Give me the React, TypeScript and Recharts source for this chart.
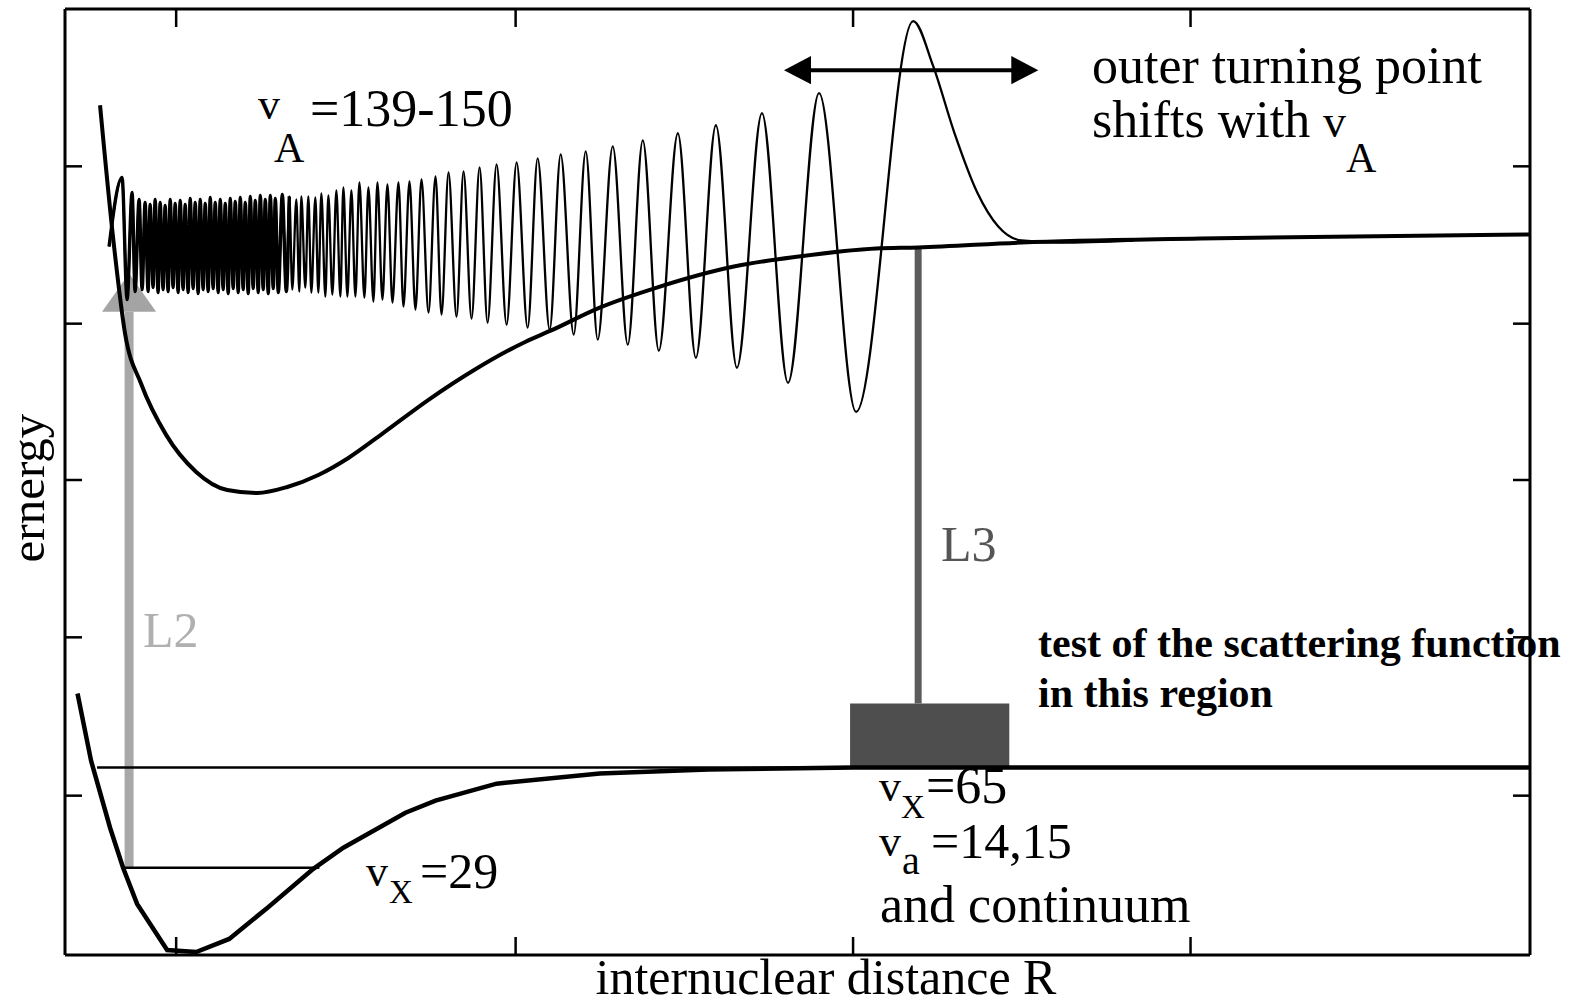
import React from 'react';
import {
  ComposedChart,
  Line,
  Area,
  XAxis,
  YAxis,
  ReferenceLine,
  ReferenceArea,
} from 'recharts';

// The original axes carry no numbers, so R and E are in arbitrary units
// (R: 0 .. 146.3 across the frame, E: 0 .. 94.4 bottom to top).
const xTicks = [11.1, 45.0, 78.7, 112.4];
const yTicks = [15.9, 31.7, 47.4, 63.0, 78.7];

// upper (A state) potential curve
const upperPotential: [number, number][] = [
  [3.5, 84.8], [4.9, 70.7], [6.0, 62.0], [7.6, 57.0], [10.1, 51.9], [13.1, 48.2],
  [16.2, 46.4], [19.2, 46.1], [22.2, 46.7], [25.3, 47.9], [28.3, 49.6], [31.8, 52.1],
  [36.3, 55.4], [40.9, 58.4], [46.0, 61.2], [48.5, 62.3], [53.4, 64.6], [59.1, 66.6],
  [66.8, 68.7], [73.3, 69.7], [81.0, 70.5], [85.2, 70.6], [95.5, 71.1], [113.4, 71.5],
  [146.3, 71.9],
];

// lower (X state) potential curve
const lowerPotential: [number, number][] = [
  [1.25, 26.1], [2.6, 19.4], [4.5, 12.7], [5.8, 8.7], [7.2, 5.1], [10.2, 0.5],
  [13.1, 0.3], [16.4, 1.6], [20.2, 4.7], [24.8, 8.6], [27.8, 10.7], [34.0, 14.2],
  [37.0, 15.4], [43.1, 17.1], [53.4, 18.1], [64.2, 18.5], [78.7, 18.7], [146.3, 18.7],
];

// vA = 139-150 wavefunction, peaks and troughs
const wavefunction: [number, number][] = [
  [4.4, 70.7], [5.7, 77.6], [6.2, 65.4], [6.7, 76.1], [7.0, 66.2], [7.4, 75.4],
  [7.7, 66.4], [8.0, 75.1], [8.3, 66.2], [8.5, 74.9], [8.8, 66.6], [9.0, 75.4],
  [9.3, 66.1], [9.5, 75.1], [9.8, 66.4], [10.0, 74.8], [10.3, 66.2], [10.5, 75.4],
  [10.8, 66.6], [11.0, 75.0], [11.3, 66.1], [11.5, 75.3], [11.8, 66.4], [12.0, 74.9],
  [12.3, 66.1], [12.5, 75.5], [12.8, 66.5], [13.0, 75.1], [13.3, 66.0], [13.5, 75.4],
  [13.8, 66.4], [14.0, 75.0], [14.3, 66.2], [14.5, 75.6], [14.8, 66.5], [15.0, 75.1],
  [15.3, 66.1], [15.5, 75.4], [15.8, 66.4], [16.0, 75.0], [16.3, 66.0], [16.5, 75.5],
  [16.8, 66.5], [17.0, 75.2], [17.3, 66.1], [17.5, 75.6], [17.8, 66.4], [18.0, 75.1],
  [18.3, 66.0], [18.5, 75.7], [18.8, 66.5], [19.0, 75.3], [19.3, 66.1], [19.5, 75.8],
  [19.8, 66.4], [20.0, 75.4], [20.3, 66.0], [20.5, 75.8], [20.8, 66.5], [21.0, 75.5],
  [21.3, 66.1], [21.7, 75.9], [22.1, 66.2], [22.4, 75.7], [22.7, 66.4], [23.1, 75.4],
  [23.4, 66.2], [23.6, 75.7], [24.0, 66.6], [24.3, 75.7], [24.6, 66.1], [25.0, 75.6],
  [25.3, 66.1], [25.6, 76.0], [26.0, 65.7], [26.3, 75.8], [26.7, 65.9], [27.1, 76.3],
  [27.5, 65.7], [27.8, 76.6], [28.2, 65.7], [28.6, 76.3], [29.0, 65.7], [29.4, 77.1],
  [29.9, 65.6], [30.3, 76.6], [30.8, 65.2], [31.2, 77.1], [31.7, 65.4], [32.2, 76.9],
  [32.7, 65.1], [33.3, 77.1], [33.8, 64.7], [34.4, 77.2], [35.0, 64.4], [35.6, 77.4],
  [36.3, 64.1], [37.0, 77.7], [37.6, 63.9], [38.3, 78.1], [39.1, 63.7], [39.8, 78.2],
  [40.6, 63.5], [41.4, 78.6], [42.2, 63.1], [43.1, 78.9], [44.1, 62.9], [45.1, 79.1],
  [46.2, 62.6], [47.2, 79.5], [48.4, 62.4], [49.5, 79.9], [50.8, 61.9], [52.0, 80.2],
  [53.2, 61.4], [54.7, 80.7], [56.2, 60.9], [57.7, 81.3], [59.3, 60.3], [61.2, 82.0],
  [63.0, 59.6], [65.0, 82.8], [67.1, 58.6], [69.6, 84.0], [72.2, 57.1], [75.3, 86.0],
  [79.0, 54.2], [84.7, 93.2], [86.7, 88.7], [88.8, 82.1], [91.1, 76.1], [93.2, 72.7],
  [95.5, 71.3], [99.4, 71.1], [106.7, 71.3],
];
// the tightly packed inner part is printed as a heavier band
const denseUntilR = 22.4;

// vibrational levels of X
const levelVx65: [number, number][] = [[3.2, 18.7], [146.3, 18.7]];
const levelVx29: [number, number][] = [[5.8, 8.7], [25.4, 8.7]];

// L2 / L3 transitions and the tested region
const l2Shaft = { r: 6.4, from: 8.7, to: 64.2 };
const l2Head = [
  { r: 3.7, e: [64.2, 64.2] },
  { r: 6.4, e: [64.2, 68.0] },
  { r: 9.1, e: [64.2, 64.2] },
];
const l3Line = { r: 85.2, from: 25.1, to: 70.6 };
const testBox = { r1: 78.4, r2: 94.3, e1: 18.8, e2: 25.1 };

// double arrow: outer turning point shift
const shiftShaft: [number, number][] = [[74.0, 88.3], [95.0, 88.3]];
const shiftHeadLeft = [
  { r: 71.8, e: [88.3, 88.3] },
  { r: 74.5, e: [86.9, 89.7] },
];
const shiftHeadRight = [
  { r: 94.5, e: [86.9, 89.7] },
  { r: 97.2, e: [88.3, 88.3] },
];

const pts = (arr: [number, number][]) => arr.map(([r, e]) => ({ r, e }));

const W = 1586;
const H = 1005;
const serif = '"Liberation Serif", "Times New Roman", serif';

const axisLine = { stroke: '#000', strokeWidth: 3 };
const tickLine = { stroke: '#000', strokeWidth: 2.5 };
// no tick labels, only the inward tick marks
const NoLabel = () => <g />;

const App: React.FC = () => {
  return (
    <div style={{ position: 'absolute', left: 0, top: 0, width: W, height: H, background: '#fff' }}>
      <ComposedChart width={W} height={H} margin={{ top: 9, right: 56, bottom: 50, left: 65 }}>
        <XAxis
          xAxisId={0}
          dataKey="r"
          type="number"
          domain={[0, 146.3]}
          allowDataOverflow
          ticks={xTicks}
          interval={0}
          height={1}
          mirror
          tick={NoLabel}
          tickSize={18}
          axisLine={axisLine}
          tickLine={tickLine}
        />
        <XAxis
          xAxisId="top"
          orientation="top"
          dataKey="r"
          type="number"
          domain={[0, 146.3]}
          allowDataOverflow
          ticks={xTicks}
          interval={0}
          height={1}
          mirror
          tick={NoLabel}
          tickSize={18}
          axisLine={axisLine}
          tickLine={tickLine}
        />
        <YAxis
          yAxisId={0}
          type="number"
          domain={[0, 94.4]}
          allowDataOverflow
          ticks={yTicks}
          interval={0}
          width={1}
          mirror
          tick={NoLabel}
          tickSize={17}
          axisLine={axisLine}
          tickLine={tickLine}
        />
        <YAxis
          yAxisId="right"
          orientation="right"
          type="number"
          domain={[0, 94.4]}
          allowDataOverflow
          ticks={yTicks}
          interval={0}
          width={1}
          mirror
          tick={NoLabel}
          tickSize={17}
          axisLine={axisLine}
          tickLine={tickLine}
        />

        {/* tested region box and L3 transition */}
        <ReferenceArea
          x1={testBox.r1}
          x2={testBox.r2}
          y1={testBox.e1}
          y2={testBox.e2}
          fill="#4e4e4e"
          fillOpacity={1}
          stroke="none"
        />
        <ReferenceLine
          segment={[{ x: l3Line.r, y: l3Line.from }, { x: l3Line.r, y: l3Line.to }]}
          stroke="#5c5c5c"
          strokeWidth={7}
        />

        {/* L2 transition */}
        <ReferenceLine
          segment={[{ x: l2Shaft.r, y: l2Shaft.from }, { x: l2Shaft.r, y: l2Shaft.to }]}
          stroke="#a8a8a8"
          strokeWidth={9}
        />
        <Area
          data={l2Head}
          dataKey="e"
          type="linear"
          stroke="none"
          fill="#a4a4a4"
          fillOpacity={1}
          dot={false}
          activeDot={false}
          isAnimationActive={false}
        />

        <Line data={pts(levelVx65)} dataKey="e" type="linear" stroke="#000" strokeWidth={2.5} dot={false} activeDot={false} isAnimationActive={false} />
        <Line data={pts(levelVx29)} dataKey="e" type="linear" stroke="#000" strokeWidth={2.5} dot={false} activeDot={false} isAnimationActive={false} />

        <Line data={pts(lowerPotential)} dataKey="e" type="linear" stroke="#000" strokeWidth={4.5} dot={false} activeDot={false} isAnimationActive={false} />
        <Line data={pts(upperPotential)} dataKey="e" type="monotoneX" stroke="#000" strokeWidth={4} dot={false} activeDot={false} isAnimationActive={false} />
        <Line data={pts(wavefunction)} dataKey="e" type="monotoneX" stroke="#000" strokeWidth={2.3} dot={false} activeDot={false} isAnimationActive={false} />
        <Line
          data={pts(wavefunction.filter(([r]) => r <= denseUntilR))}
          dataKey="e"
          type="monotoneX"
          stroke="#000"
          strokeWidth={3.4}
          dot={false}
          activeDot={false}
          isAnimationActive={false}
        />

        {/* outer turning point double arrow */}
        <Line data={pts(shiftShaft)} dataKey="e" type="linear" stroke="#000" strokeWidth={4} dot={false} activeDot={false} isAnimationActive={false} />
        <Area data={shiftHeadLeft} dataKey="e" type="linear" stroke="none" fill="#000" fillOpacity={1} dot={false} activeDot={false} isAnimationActive={false} />
        <Area data={shiftHeadRight} dataKey="e" type="linear" stroke="none" fill="#000" fillOpacity={1} dot={false} activeDot={false} isAnimationActive={false} />
      </ComposedChart>

      {/* annotations */}
      <svg
        width={W}
        height={H}
        style={{ position: 'absolute', left: 0, top: 0, pointerEvents: 'none' }}
        fontFamily={serif}
      >
        <text fontSize={52}>
          <tspan x={258} y={119} fontSize={44}>v</tspan>
          <tspan x={274} y={162} fontSize={42}>A</tspan>
          <tspan x={310} y={126}>=139-150</tspan>
        </text>

        <text x={1092} y={83} fontSize={52}>outer turning point</text>
        <text fontSize={52}>
          <tspan x={1092} y={137}>shifts with</tspan>
          <tspan x={1323} y={137} fontSize={46}>v</tspan>
          <tspan x={1346} y={172} fontSize={42}>A</tspan>
        </text>

        <text x={143} y={647} fontSize={50} fill="#b0b0b0">L2</text>
        <text x={941} y={561} fontSize={50} fill="#555">L3</text>

        <text x={1038} y={657} fontSize={42} fontWeight="bold">test of the scattering function</text>
        <text x={1038} y={707} fontSize={42} fontWeight="bold">in this region</text>

        <text fontSize={52}>
          <tspan x={879} y={801} fontSize={44}>v</tspan>
          <tspan x={901} y={818} fontSize={33}>X</tspan>
          <tspan x={926} y={803}>=65</tspan>
        </text>

        <text fontSize={50}>
          <tspan x={879} y={856} fontSize={44}>v</tspan>
          <tspan x={902} y={874} fontSize={40}>a</tspan>
          <tspan x={931} y={858}>=14,15</tspan>
        </text>

        <text x={880} y={922} fontSize={52}>and continuum</text>

        <text fontSize={50}>
          <tspan x={366} y={886} fontSize={44}>v</tspan>
          <tspan x={389} y={903} fontSize={33}>X</tspan>
          <tspan x={420} y={888}>=29</tspan>
        </text>

        <text x={826} y={994} fontSize={50} textAnchor="middle">internuclear distance R</text>
        <text x={44} y={488} fontSize={49} textAnchor="middle" transform="rotate(-90 44 488)">ernergy</text>
      </svg>
    </div>
  );
};

export default App;
